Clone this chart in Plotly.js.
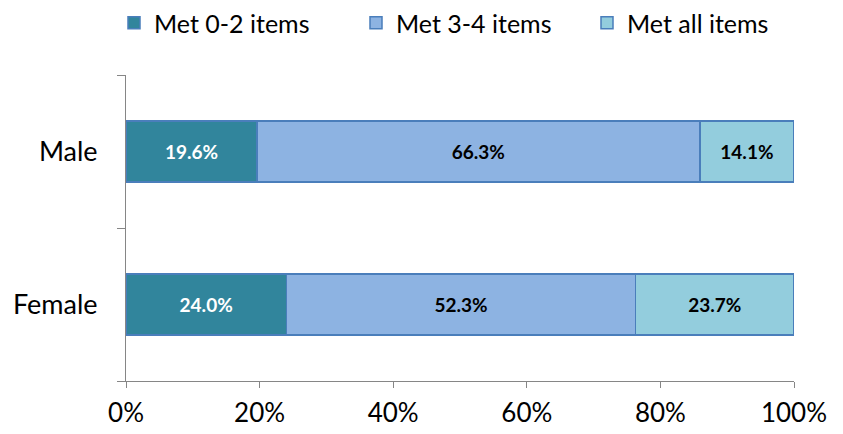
<!DOCTYPE html>
<html>
<head>
<meta charset="utf-8">
<script src="https://cdn.plot.ly/plotly-3.0.1.min.js"></script>
<style>html,body{margin:0;padding:0;background:#fff;}#chart{width:843px;height:434px;}</style>
</head>
<body>
<div id="chart"></div>
<script>
const categories = ['Female', 'Male'];
const seriesNames = ['Met 0-2 items', 'Met 3-4 items', 'Met all items'];
const met02 = [24.0, 19.6];
const met34 = [52.3, 66.3];
const metAll = [23.7, 14.1];
const xTickVals = [0, 20, 40, 60, 80, 100];
const xTickText = ['0%', '20%', '40%', '60%', '80%', '100%'];

const colors = ['#31859C', '#8DB3E2', '#93CDDD'];
const labelColors = ['#FFFFFF', '#000000', '#000000'];
const values = [met02, met34, metAll];
const legendIds = ['legend', 'legend2', 'legend3'];
const legendX = [114, 356, 587];

const traces = values.map((vals, i) => ({
  type: 'bar',
  orientation: 'h',
  name: seriesNames[i],
  legend: legendIds[i],
  y: categories,
  x: vals,
  text: vals.map(v => v.toFixed(1) + '%'),
  textposition: 'inside',
  insidetextanchor: 'middle',
  constraintext: 'none',
  textfont: {family: 'Lato, "Open Sans", sans-serif', size: 19, color: labelColors[i], weight: 'bold'},
  marker: {color: colors[i], line: {color: '#4A7EBB', width: 1.5}},
  hoverinfo: 'skip'
}));

const layout = {
  width: 843,
  height: 434,
  barmode: 'stack',
  bargap: 0.6,
  margin: {l: 126, r: 49, t: 75, b: 53},
  paper_bgcolor: '#fff',
  plot_bgcolor: '#fff',
  font: {family: 'Lato, "Open Sans", sans-serif', size: 26, color: '#000'},
  showlegend: true,
  xaxis: {
    range: [0, 100],
    tickvals: xTickVals,
    ticktext: xTickText,
    showgrid: false,
    zeroline: false,
    showline: true,
    linecolor: '#868686',
    linewidth: 1,
    ticks: 'outside',
    ticklen: 6,
    tickcolor: '#868686',
    ticklabelstandoff: 3,
    fixedrange: true
  },
  yaxis: {
    type: 'category',
    showgrid: false,
    zeroline: false,
    showline: true,
    linecolor: '#868686',
    linewidth: 1,
    ticks: 'outside',
    tickson: 'boundaries',
    ticklen: 8,
    tickcolor: '#868686',
    ticklabelstandoff: 22,
    tickfont: {size: 27},
    fixedrange: true
  }
};

legendIds.forEach((id, i) => {
  layout[id] = {
    orientation: 'h',
    x: legendX[i] / 843, xanchor: 'left',
    y: 1.0, yanchor: 'top',
    xref: 'container', yref: 'container',
    font: {size: 25},
    itemwidth: 30,
    bgcolor: 'rgba(0,0,0,0)'
  };
});

Plotly.newPlot('chart', traces, layout, {displayModeBar: false, staticPlot: true});
</script>
</body>
</html>
